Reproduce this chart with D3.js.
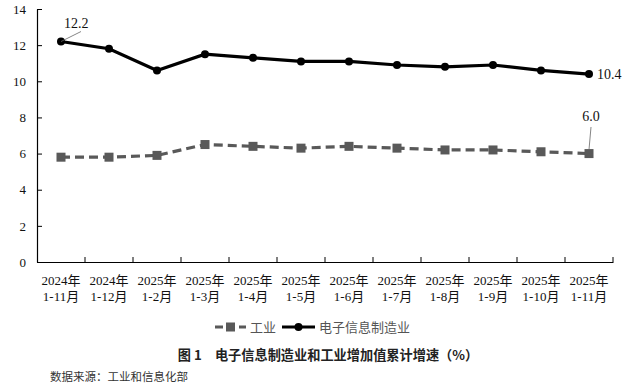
<!DOCTYPE html>
<html><head><meta charset="utf-8">
<script src="https://cdn.jsdelivr.net/npm/d3@7"></script>
<style>body{margin:0;background:#fff}svg{display:block}</style>
</head><body><svg id="c" width="640" height="391"></svg>
<script>
const categories = ["2024年|1-11月","2024年|1-12月","2025年|1-2月","2025年|1-3月","2025年|1-4月","2025年|1-5月","2025年|1-6月","2025年|1-7月","2025年|1-8月","2025年|1-9月","2025年|1-10月","2025年|1-11月"];
const industry = [5.8,5.8,5.9,6.5,6.4,6.3,6.4,6.3,6.2,6.2,6.1,6.0];
const electronics = [12.2,11.8,10.6,11.5,11.3,11.1,11.1,10.9,10.8,10.9,10.6,10.4];
const yTicks = [0,2,4,6,8,10,12,14];
const seriesNames = ["工业","电子信息制造业"];
const titleText = "图 1　电子信息制造业和工业增加值累计增速（%）";
const sourceText = "数据来源：工业和信息化部";

const svg = d3.select("#c");
const serif = "Liberation Serif, Noto Sans CJK SC, serif";
const L=37, R=613, T=9, B=262;
const x = d3.scaleBand().domain(categories).range([L,R]);
const y = d3.scaleLinear().domain([0,14]).range([B,T]);
const cx = d => x(d)+x.bandwidth()/2;

// y axis
const ya = svg.append("g").attr("transform",`translate(${L},0)`)
  .call(d3.axisLeft(y).tickValues(yTicks).tickSizeInner(-5).tickSizeOuter(0).tickPadding(11));
ya.attr("font-family",serif).attr("font-size",13);
ya.select(".domain").attr("stroke","#000").attr("stroke-width",1.2);
ya.selectAll(".tick line").attr("stroke","#000");
ya.selectAll("text").attr("fill","#111");

// x axis
const xa = svg.append("g").attr("transform",`translate(0,${B})`)
  .call(d3.axisBottom(x).tickSize(0).tickFormat(""));
xa.select(".domain").attr("stroke","#000").attr("stroke-width",1.2);
xa.selectAll(".tick").remove();
const bounds = categories.map(c=>x(c)+x.bandwidth());
svg.append("g").selectAll("line").data(bounds).join("line")
  .attr("x1",d=>d).attr("x2",d=>d).attr("y1",B).attr("y2",B-5).attr("stroke","#000");
const xl = svg.append("g").attr("font-family",serif).attr("font-size",13).attr("fill","#111")
  .selectAll("text").data(categories).join("text")
  .attr("x",d=>cx(d)).attr("text-anchor","middle");
xl.append("tspan").attr("x",d=>cx(d)).attr("y",285).text(d=>d.split("|")[0]);
xl.append("tspan").attr("x",d=>cx(d)).attr("y",301).text(d=>d.split("|")[1]);

// lines
const line = d3.line().x((d,i)=>cx(categories[i])).y(d=>y(d));
svg.append("path").datum(industry).attr("d",line).attr("fill","none")
  .attr("stroke","#595959").attr("stroke-width",3.2).attr("stroke-dasharray","9,5");
svg.append("g").selectAll("rect").data(industry).join("rect")
  .attr("x",(d,i)=>cx(categories[i])-4.5).attr("y",d=>y(d)-4.5)
  .attr("width",9).attr("height",9).attr("fill","#595959");
svg.append("path").datum(electronics).attr("d",line).attr("fill","none")
  .attr("stroke","#000").attr("stroke-width",3.2);
svg.append("g").selectAll("circle").data(electronics).join("circle")
  .attr("cx",(d,i)=>cx(categories[i])).attr("cy",d=>y(d)).attr("r",4).attr("fill","#000");

// data labels
const last = categories.length-1;
const lab = svg.append("g").attr("font-family",serif).attr("font-size",14).attr("fill","#111");
svg.append("line").attr("x1",cx(categories[0])).attr("y1",y(electronics[0]))
  .attr("x2",cx(categories[0])+20).attr("y2",y(electronics[0])-10).attr("stroke","#666").attr("stroke-width",0.8);
lab.append("text").attr("x",cx(categories[0])+3).attr("y",28).text(electronics[0].toFixed(1));
lab.append("text").attr("x",cx(categories[last])+8).attr("y",y(electronics[last])+5).text(electronics[last].toFixed(1));
svg.append("line").attr("x1",cx(categories[last])).attr("y1",y(industry[last])-4)
  .attr("x2",cx(categories[last])+2).attr("y2",127).attr("stroke","#666").attr("stroke-width",0.8);
lab.append("text").attr("x",cx(categories[last])+2).attr("y",121).attr("text-anchor","middle").text(industry[last].toFixed(1));

// legend
const lg = svg.append("g");
lg.append("line").attr("x1",215).attr("x2",246).attr("y1",327).attr("y2",327)
  .attr("stroke","#595959").attr("stroke-width",3.2).attr("stroke-dasharray","8,4");
lg.append("rect").attr("x",226).attr("y",322.5).attr("width",9).attr("height",9).attr("fill","#595959");
lg.append("text").attr("x",250).attr("y",332).text(seriesNames[0])
  .attr("font-family","Noto Sans CJK SC").attr("font-size",13).attr("fill","#555");
lg.append("line").attr("x1",282).attr("x2",315).attr("y1",327).attr("y2",327)
  .attr("stroke","#000").attr("stroke-width",3.2);
lg.append("circle").attr("cx",298.5).attr("cy",327).attr("r",4).attr("fill","#000");
lg.append("text").attr("x",319).attr("y",332).text(seriesNames[1])
  .attr("font-family","Noto Sans CJK SC").attr("font-size",13).attr("fill","#555");

// title & source
svg.append("text").attr("x",328).attr("y",360).attr("text-anchor","middle").text(titleText)
  .attr("font-family","Noto Sans CJK SC").attr("font-size",13.2).attr("font-weight","bold").attr("fill","#222");
svg.append("text").attr("x",50).attr("y",381).text(sourceText)
  .attr("font-family","Noto Sans CJK SC").attr("font-size",11.5).attr("fill","#333");
</script></body></html>
